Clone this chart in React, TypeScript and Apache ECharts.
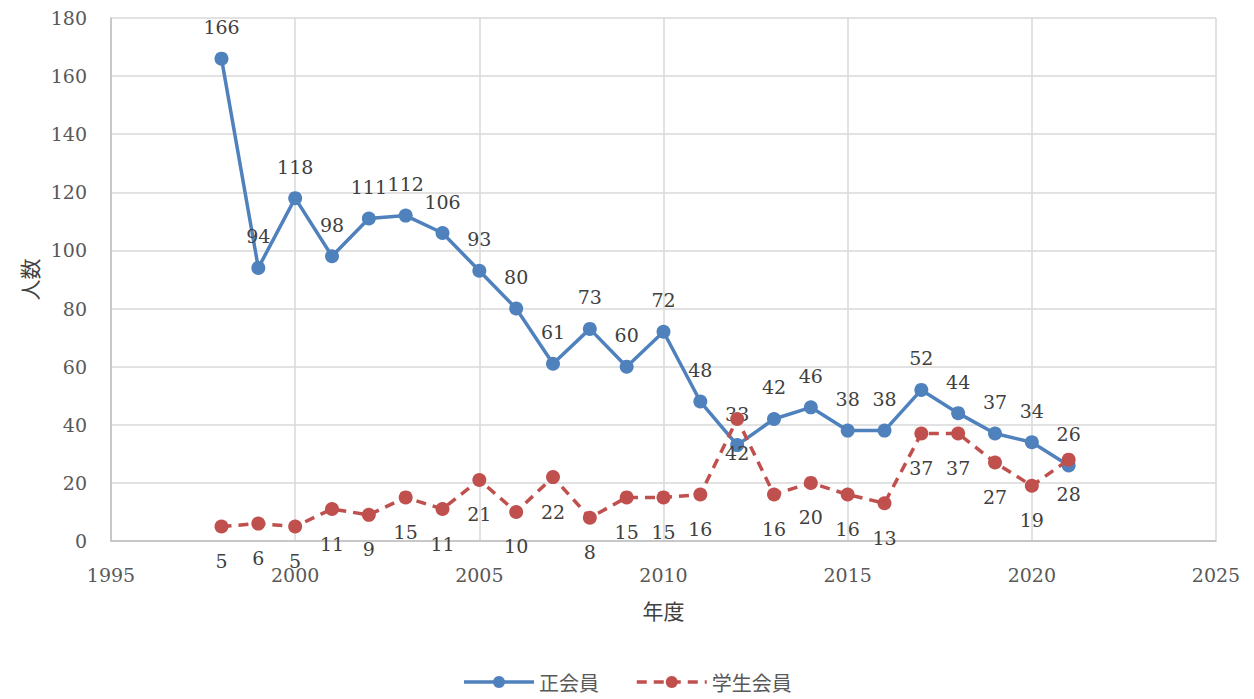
import React, { useEffect, useRef } from "react";
import * as echarts from "echarts";

const years = [1998, 1999, 2000, 2001, 2002, 2003, 2004, 2005, 2006, 2007, 2008, 2009, 2010, 2011, 2012, 2013, 2014, 2015, 2016, 2017, 2018, 2019, 2020, 2021];
const regular = [166, 94, 118, 98, 111, 112, 106, 93, 80, 61, 73, 60, 72, 48, 33, 42, 46, 38, 38, 52, 44, 37, 34, 26];
const student = [5, 6, 5, 11, 9, 15, 11, 21, 10, 22, 8, 15, 15, 16, 42, 16, 20, 16, 13, 37, 37, 27, 19, 28];
const seriesNames = ["正会員", "学生会員"];

const serif = "'DejaVu Serif', 'Liberation Serif', serif";
const cjk = "'Noto Sans CJK JP', sans-serif";

export default function App() {
  const ref = useRef<HTMLDivElement>(null);
  useEffect(() => {
    if (!ref.current) return;
    const chart = echarts.init(ref.current, null, { renderer: "svg" });
    chart.setOption({
      animation: false,
      backgroundColor: "#ffffff",
      grid: { left: 111, right: 38, top: 18, bottom: 158, containLabel: false },
      legend: {
        bottom: 2,
        left: "center",
        itemWidth: 70,
        itemHeight: 15,
        itemGap: 36,
        lineStyle: { width: 3.5 },
        textStyle: { fontFamily: cjk, fontSize: 20, color: "#595959" },
        data: seriesNames,
      },
      xAxis: {
        type: "value",
        min: 1995,
        max: 2025,
        interval: 5,
        name: "年度",
        nameLocation: "middle",
        nameGap: 58,
        nameTextStyle: { fontFamily: cjk, fontSize: 21, color: "#404040" },
        axisLine: { show: true, lineStyle: { color: "#bfbfbf", width: 1.5 } },
        axisTick: { show: false },
        splitLine: { show: true, lineStyle: { color: "#d9d9d9", width: 1.5 } },
        axisLabel: { fontFamily: serif, fontSize: 19, color: "#595959", margin: 24, formatter: (v: number) => String(v) },
      },
      yAxis: {
        type: "value",
        min: 0,
        max: 180,
        interval: 20,
        name: "人数",
        nameLocation: "middle",
        nameGap: 70,
        nameRotate: 90,
        nameTextStyle: { fontFamily: cjk, fontSize: 21, color: "#404040" },
        axisLine: { show: true, lineStyle: { color: "#bfbfbf", width: 1.5 } },
        axisTick: { show: false },
        splitLine: { show: true, lineStyle: { color: "#d9d9d9", width: 1.5 } },
        axisLabel: { fontFamily: serif, fontSize: 19, color: "#595959", margin: 24 },
      },
      series: [
        {
          name: seriesNames[0],
          type: "line",
          data: years.map((y, i) => [y, regular[i]]),
          symbol: "circle",
          symbolSize: 14,
          itemStyle: { color: "#4f81bd" },
          lineStyle: { color: "#4f81bd", width: 3.5 },
          label: {
            show: true,
            position: "top",
            distance: 15,
            fontFamily: serif,
            fontSize: 19,
            color: "#404040",
            formatter: (p: any) => String(p.value[1]),
          },
          z: 3,
        },
        {
          name: seriesNames[1],
          type: "line",
          data: years.map((y, i) => [y, student[i]]),
          symbol: "circle",
          symbolSize: 14,
          itemStyle: { color: "#c0504d" },
          lineStyle: { color: "#c0504d", width: 3.5, type: [10, 7] },
          label: {
            show: true,
            position: "bottom",
            distance: 18,
            fontFamily: serif,
            fontSize: 19,
            color: "#404040",
            formatter: (p: any) => String(p.value[1]),
          },
          z: 4,
        },
      ],
    });
    return () => chart.dispose();
  }, []);
  return <div ref={ref} style={{ width: 1254, height: 699, position: "absolute", left: 0, top: 0 }} />;
}
